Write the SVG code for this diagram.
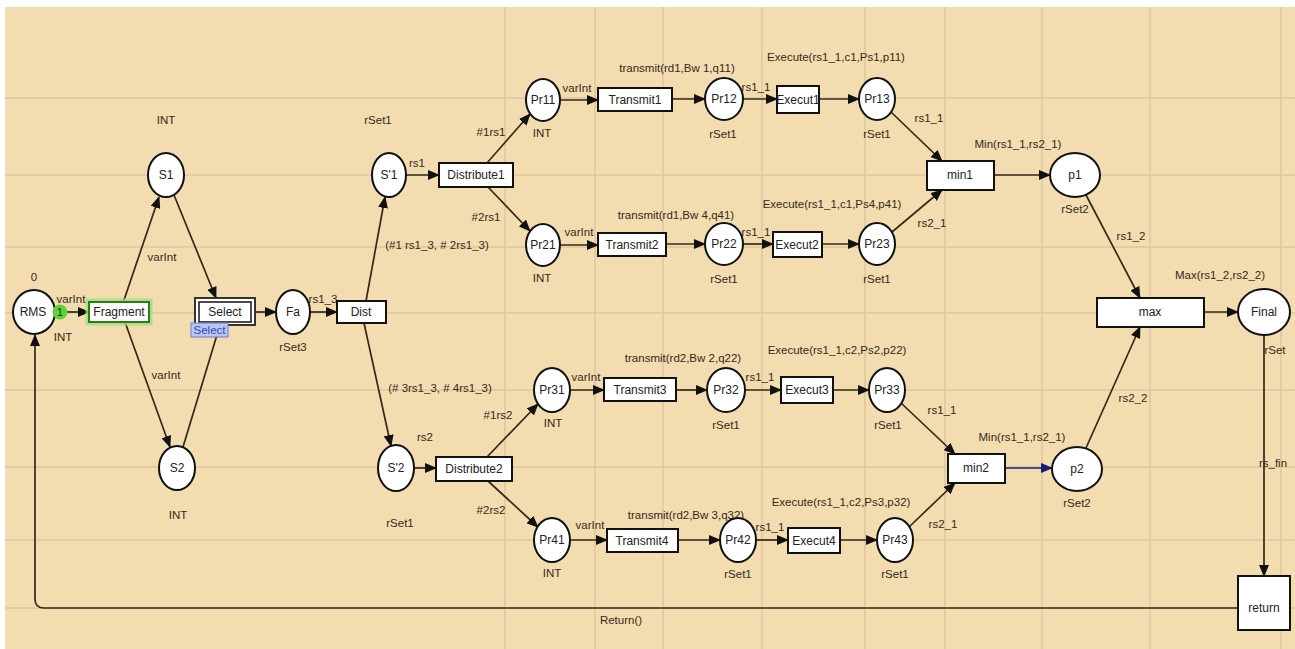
<svg xmlns="http://www.w3.org/2000/svg" width="1295" height="649" viewBox="0 0 1295 649">
<defs>
<marker id="ah" markerUnits="userSpaceOnUse" markerWidth="12" markerHeight="10" refX="11" refY="5" orient="auto"><path d="M0,0 L12,5 L0,10 z" fill="#111"/></marker>
<marker id="ahb" markerUnits="userSpaceOnUse" markerWidth="12" markerHeight="10" refX="11" refY="5" orient="auto"><path d="M0,0 L12,5 L0,10 z" fill="#1a1a7a"/></marker>
<style>
.pl{fill:#fff;stroke:#111;stroke-width:2}
.tr{fill:#fff;stroke:#111;stroke-width:2}
.nt{font-family:"Liberation Sans",Arial,sans-serif;font-size:12px;fill:#222;text-anchor:middle}
.lb{font-family:"Liberation Sans",Arial,sans-serif;font-size:11.5px;fill:#33291a;text-anchor:middle}
.arc{fill:none;stroke:#33291a;stroke-width:1.7;marker-end:url(#ah)}
.grid{stroke:#dcc79c;stroke-width:1.5}
</style>
</defs>
<rect x="0" y="0" width="1295" height="649" fill="#fff"/>
<rect x="5" y="7" width="1290" height="642" fill="#f3dcb0"/>
<g id="grid">
<line class="grid" x1="5" y1="98" x2="1295" y2="98"/>
<line class="grid" x1="5" y1="175" x2="1295" y2="175"/>
<line class="grid" x1="5" y1="247" x2="1295" y2="247"/>
<line class="grid" x1="5" y1="313" x2="1295" y2="313"/>
<line class="grid" x1="5" y1="390" x2="1295" y2="390"/>
<line class="grid" x1="5" y1="467" x2="1295" y2="467"/>
<line class="grid" x1="5" y1="540" x2="1295" y2="540"/>
<line class="grid" x1="5" y1="608" x2="1295" y2="608"/>
<line class="grid" x1="505" y1="7" x2="505" y2="649"/>
<line class="grid" x1="595" y1="7" x2="595" y2="649"/>
<line class="grid" x1="663" y1="7" x2="663" y2="649"/>
<line class="grid" x1="762" y1="7" x2="762" y2="649"/>
<line class="grid" x1="865" y1="7" x2="865" y2="649"/>
<line class="grid" x1="945" y1="7" x2="945" y2="649"/>
<line class="grid" x1="1042" y1="7" x2="1042" y2="649"/>
<line class="grid" x1="1150" y1="7" x2="1150" y2="649"/>
<line class="grid" x1="1281" y1="7" x2="1281" y2="649"/>
</g>
<g id="connectors">
<line class="arc" x1="67" y1="312" x2="89" y2="312"/>
<line class="arc" x1="123" y1="303" x2="159" y2="197"/>
<line class="arc" x1="125" y1="322" x2="170" y2="447"/>
<line class="arc" x1="174" y1="195" x2="216" y2="298"/>
<line class="arc" x1="183" y1="447" x2="220" y2="325"/>
<line class="arc" x1="255" y1="312" x2="276" y2="312"/>
<line class="arc" x1="310" y1="312" x2="337" y2="312"/>
<line class="arc" x1="366" y1="301" x2="385" y2="197"/>
<line class="arc" x1="364" y1="323" x2="391" y2="446"/>
<line class="arc" x1="406" y1="175" x2="439" y2="175"/>
<line class="arc" x1="414" y1="468" x2="436" y2="468"/>
<line class="arc" x1="487" y1="163" x2="530" y2="114"/>
<line class="arc" x1="488" y1="187" x2="530" y2="231"/>
<line class="arc" x1="487" y1="457" x2="538" y2="404"/>
<line class="arc" x1="488" y1="481" x2="538" y2="527"/>
<line class="arc" x1="560" y1="100" x2="598" y2="100"/>
<line class="arc" x1="672" y1="99" x2="705" y2="99"/>
<line class="arc" x1="743" y1="99" x2="777" y2="99"/>
<line class="arc" x1="819" y1="99" x2="859" y2="99"/>
<line class="arc" x1="560" y1="245" x2="598" y2="245"/>
<line class="arc" x1="666" y1="244" x2="705" y2="244"/>
<line class="arc" x1="743" y1="244" x2="773" y2="244"/>
<line class="arc" x1="822" y1="244" x2="859" y2="244"/>
<line class="arc" x1="570" y1="390" x2="604" y2="390"/>
<line class="arc" x1="676" y1="390" x2="707" y2="390"/>
<line class="arc" x1="745" y1="390" x2="781" y2="390"/>
<line class="arc" x1="833" y1="390" x2="869" y2="390"/>
<line class="arc" x1="570" y1="540" x2="607" y2="540"/>
<line class="arc" x1="678" y1="540" x2="720" y2="540"/>
<line class="arc" x1="756" y1="540" x2="788" y2="540"/>
<line class="arc" x1="840" y1="540" x2="877" y2="540"/>
<line class="arc" x1="891" y1="112" x2="942" y2="161"/>
<line class="arc" x1="892" y1="232" x2="942" y2="190"/>
<line class="arc" x1="901" y1="403" x2="955" y2="454"/>
<line class="arc" x1="909" y1="527" x2="955" y2="483"/>
<line class="arc" x1="994" y1="175" x2="1050" y2="175"/>
<line x1="1005" y1="468" x2="1052" y2="468" fill="none" stroke="#1a1a7a" stroke-width="1.7" marker-end="url(#ahb)"/>
<line class="arc" x1="1086" y1="195" x2="1140" y2="298"/>
<line class="arc" x1="1086" y1="448" x2="1140" y2="327"/>
<line class="arc" x1="1204" y1="312" x2="1238" y2="312"/>
<line class="arc" x1="1264" y1="336" x2="1264" y2="576"/>
<path class="arc" d="M1238,608 L44,608 Q35,608 35,599 L35,335"/>
</g>
<g id="arc-labels">
<text class="lb" x="71" y="303">varInt</text>
<text class="lb" x="162" y="261">varInt</text>
<text class="lb" x="166" y="379">varInt</text>
<text class="lb" x="323" y="303">rs1_3</text>
<text class="lb" x="437" y="249">(#1 rs1_3, # 2rs1_3)</text>
<text class="lb" x="440" y="392">(# 3rs1_3, # 4rs1_3)</text>
<text class="lb" x="417" y="167">rs1</text>
<text class="lb" x="491" y="136">#1rs1</text>
<text class="lb" x="486" y="221">#2rs1</text>
<text class="lb" x="425" y="441">rs2</text>
<text class="lb" x="498" y="419">#1rs2</text>
<text class="lb" x="491" y="514">#2rs2</text>
<text class="lb" x="577" y="92">varInt</text>
<text class="lb" x="579" y="236">varInt</text>
<text class="lb" x="586" y="381">varInt</text>
<text class="lb" x="590" y="529">varInt</text>
<text class="lb" x="677" y="72">transmit(rd1,Bw 1,q11)</text>
<text class="lb" x="676" y="219">transmit(rd1,Bw 4,q41)</text>
<text class="lb" x="683" y="362">transmit(rd2,Bw 2,q22)</text>
<text class="lb" x="686" y="519">transmit(rd2,Bw 3,q32)</text>
<text class="lb" x="756" y="91">rs1_1</text>
<text class="lb" x="756" y="236">rs1_1</text>
<text class="lb" x="760" y="381">rs1_1</text>
<text class="lb" x="770" y="531">rs1_1</text>
<text class="lb" x="836" y="61">Execute(rs1_1,c1,Ps1,p11)</text>
<text class="lb" x="832" y="208">Execute(rs1_1,c1,Ps4,p41)</text>
<text class="lb" x="837" y="354">Execute(rs1_1,c2,Ps2,p22)</text>
<text class="lb" x="841" y="506">Execute(rs1_1,c2,Ps3,p32)</text>
<text class="lb" x="929" y="122">rs1_1</text>
<text class="lb" x="932" y="227">rs2_1</text>
<text class="lb" x="942" y="414">rs1_1</text>
<text class="lb" x="943" y="528">rs2_1</text>
<text class="lb" x="1018" y="148">Min(rs1_1,rs2_1)</text>
<text class="lb" x="1022" y="441">Min(rs1_1,rs2_1)</text>
<text class="lb" x="1131" y="240">rs1_2</text>
<text class="lb" x="1133" y="402">rs2_2</text>
<text class="lb" x="1220" y="279">Max(rs1_2,rs2_2)</text>
<text class="lb" x="1273" y="467" text-anchor="start">rs_fin</text>
<text class="lb" x="621" y="624">Return()</text>
</g>
<g id="RMS"><ellipse class="pl" cx="34" cy="312" rx="21" ry="22"/><text class="nt" x="33" y="316">RMS</text><text class="lb" x="34" y="281">0</text><text class="lb" x="63" y="341">INT</text><circle cx="60" cy="312" r="7.5" fill="#5fd23c"/><text class="lb" x="60" y="316" style="fill:#204010">1</text></g>
<g id="Fragment"><rect x="87" y="300" width="64" height="24" fill="none" stroke="#9ee07a" stroke-width="3" opacity="0.8"/><rect class="tr" x="89" y="302" width="60" height="20" style="stroke:#2f7a1a"/><text class="nt" x="119" y="316">Fragment</text></g>
<g id="S1"><ellipse class="pl" cx="166" cy="175" rx="18" ry="22"/><text class="nt" x="166" y="179">S1</text><text class="lb" x="166" y="124">INT</text></g>
<g id="S2"><ellipse class="pl" cx="177" cy="468" rx="18" ry="22"/><text class="nt" x="177" y="472">S2</text><text class="lb" x="178" y="519">INT</text></g>
<g id="Select"><rect x="195" y="298" width="60" height="27" fill="#fff" stroke="#333" stroke-width="2"/><rect x="199" y="302" width="52" height="20" fill="#fff" stroke="#111" stroke-width="1.5"/><text class="nt" x="225" y="316">Select</text><rect x="191" y="323" width="37" height="14" fill="#b9c6f2" stroke="#6a7fd0" stroke-width="1"/><text class="lb" x="209.5" y="334" style="fill:#3848b8">Select</text></g>
<g id="Fa"><ellipse class="pl" cx="293" cy="312" rx="17" ry="22"/><text class="nt" x="293" y="316">Fa</text><text class="lb" x="293" y="351">rSet3</text></g>
<g id="Dist"><rect class="tr" x="337" y="301" width="49" height="22"/><text class="nt" x="361" y="316">Dist</text></g>
<g id="S1p"><ellipse class="pl" cx="389" cy="175" rx="17" ry="22"/><text class="nt" x="389" y="179">S'1</text><text class="lb" x="378" y="124">rSet1</text></g>
<g id="S2p"><ellipse class="pl" cx="396" cy="468" rx="18" ry="23"/><text class="nt" x="396" y="472">S'2</text><text class="lb" x="400" y="527">rSet1</text></g>
<g id="Distribute1"><rect class="tr" x="439" y="163" width="74" height="24"/><text class="nt" x="476" y="179">Distribute1</text></g>
<g id="Distribute2"><rect class="tr" x="436" y="457" width="76" height="24"/><text class="nt" x="474" y="473">Distribute2</text></g>
<g id="Pr11"><ellipse class="pl" cx="543" cy="100" rx="17" ry="21"/><text class="nt" x="543" y="104">Pr11</text><text class="lb" x="542" y="137">INT</text></g>
<g id="Pr21"><ellipse class="pl" cx="543" cy="245" rx="17" ry="21"/><text class="nt" x="543" y="249">Pr21</text><text class="lb" x="542" y="282">INT</text></g>
<g id="Pr31"><ellipse class="pl" cx="552" cy="390" rx="18" ry="22"/><text class="nt" x="552" y="394">Pr31</text><text class="lb" x="553" y="427">INT</text></g>
<g id="Pr41"><ellipse class="pl" cx="552" cy="540" rx="18" ry="22"/><text class="nt" x="552" y="544">Pr41</text><text class="lb" x="552" y="577">INT</text></g>
<g id="Transmit1"><rect class="tr" x="598" y="88" width="74" height="23"/><text class="nt" x="635" y="104">Transmit1</text></g>
<g id="Transmit2"><rect class="tr" x="598" y="233" width="68" height="23"/><text class="nt" x="632" y="249">Transmit2</text></g>
<g id="Transmit3"><rect class="tr" x="604" y="378" width="72" height="23"/><text class="nt" x="640" y="394">Transmit3</text></g>
<g id="Transmit4"><rect class="tr" x="607" y="529" width="71" height="23"/><text class="nt" x="642" y="545">Transmit4</text></g>
<g id="Pr12"><ellipse class="pl" cx="724" cy="99" rx="19" ry="21"/><text class="nt" x="724" y="103">Pr12</text><text class="lb" x="723" y="138">rSet1</text></g>
<g id="Pr22"><ellipse class="pl" cx="724" cy="244" rx="19" ry="21"/><text class="nt" x="724" y="248">Pr22</text><text class="lb" x="724" y="283">rSet1</text></g>
<g id="Pr32"><ellipse class="pl" cx="726" cy="390" rx="19" ry="22"/><text class="nt" x="726" y="394">Pr32</text><text class="lb" x="726" y="429">rSet1</text></g>
<g id="Pr42"><ellipse class="pl" cx="738" cy="540" rx="18" ry="22"/><text class="nt" x="738" y="544">Pr42</text><text class="lb" x="738" y="578">rSet1</text></g>
<g id="Execut1"><rect class="tr" x="777" y="86" width="42" height="27"/><text class="nt" x="798" y="104">Execut1</text></g>
<g id="Execut2"><rect class="tr" x="773" y="232" width="49" height="25"/><text class="nt" x="797" y="249">Execut2</text></g>
<g id="Execut3"><rect class="tr" x="781" y="377" width="52" height="26"/><text class="nt" x="807" y="394">Execut3</text></g>
<g id="Execut4"><rect class="tr" x="788" y="528" width="52" height="25"/><text class="nt" x="814" y="545">Execut4</text></g>
<g id="Pr13"><ellipse class="pl" cx="877" cy="99" rx="18" ry="21"/><text class="nt" x="877" y="103">Pr13</text><text class="lb" x="877" y="138">rSet1</text></g>
<g id="Pr23"><ellipse class="pl" cx="877" cy="244" rx="18" ry="21"/><text class="nt" x="877" y="248">Pr23</text><text class="lb" x="877" y="283">rSet1</text></g>
<g id="Pr33"><ellipse class="pl" cx="887" cy="390" rx="18" ry="22"/><text class="nt" x="887" y="394">Pr33</text><text class="lb" x="888" y="429">rSet1</text></g>
<g id="Pr43"><ellipse class="pl" cx="895" cy="540" rx="18" ry="22"/><text class="nt" x="895" y="544">Pr43</text><text class="lb" x="895" y="578">rSet1</text></g>
<g id="min1"><rect class="tr" x="927" y="161" width="67" height="29"/><text class="nt" x="960" y="179">min1</text></g>
<g id="min2"><rect class="tr" x="948" y="454" width="57" height="29"/><text class="nt" x="976" y="472">min2</text></g>
<g id="p1"><ellipse class="pl" cx="1075" cy="175" rx="25" ry="22"/><text class="nt" x="1075" y="179">p1</text><text class="lb" x="1075" y="213">rSet2</text></g>
<g id="p2"><ellipse class="pl" cx="1077" cy="469" rx="25" ry="22"/><text class="nt" x="1077" y="473">p2</text><text class="lb" x="1077" y="507">rSet2</text></g>
<g id="max"><rect class="tr" x="1097" y="298" width="107" height="29"/><text class="nt" x="1150" y="316">max</text></g>
<g id="Final"><ellipse class="pl" cx="1264" cy="312" rx="26" ry="23"/><text class="nt" x="1264" y="316">Final</text><text class="lb" x="1275" y="354" text-anchor="start">rSet</text></g>
<g id="return"><rect class="tr" x="1238" y="576" width="52" height="54"/><text class="nt" x="1264" y="612">return</text></g>
</svg>
